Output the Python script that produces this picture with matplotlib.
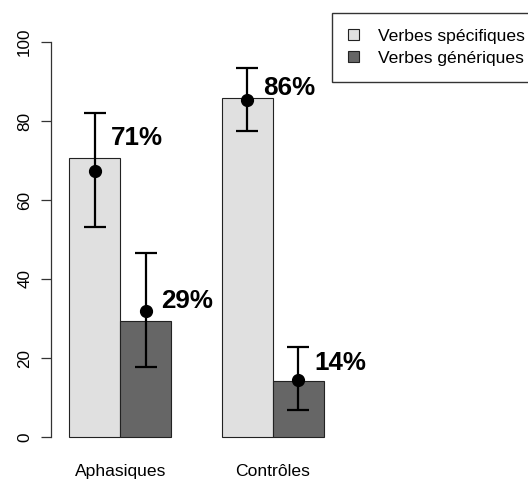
import matplotlib
matplotlib.use("Agg")
import matplotlib.pyplot as plt
from matplotlib.patches import Patch

plt.rcParams['font.family'] = ['Liberation Sans', 'DejaVu Sans']

# ---- data ----
groups = ["Aphasiques", "Contrôles"]
series = ["Verbes spécifiques", "Verbes génériques"]
bar_specific = [70.6, 85.9]
bar_generic = [29.4, 14.3]
point_specific = [67.4, 85.3]
point_generic = [32.0, 14.4]
low_specific = [53.2, 77.5]
low_generic = [17.8, 6.8]
high_specific = [82.1, 93.3]
high_generic = [46.7, 22.9]
label_specific = ["71%", "86%"]
label_generic = ["29%", "14%"]
yticks = [0, 20, 40, 60, 80, 100]

# ---- layout ----
W, H, DPI = 528, 483, 100
fig = plt.figure(figsize=(W / DPI, H / DPI), dpi=DPI)

sx = 50.88          # px per x unit
x1px = 69.3         # pixel of x = 1
sy = 3.95           # px per y unit
y0px = 437.0        # pixel of y = 0
L, R, T, B = 50.5, 340.0, 30.0, 445.0
ax = fig.add_axes([L / W, 1 - B / H, (R - L) / W, (B - T) / H])
ax.set_xlim(1 - (x1px - L) / sx, 1 + (R - x1px) / sx)
ax.set_ylim(-(B - y0px) / sy, (y0px - T) / sy)

col_spec = "#e0e0e0"
col_gen = "#666666"

xs_spec = [1.5, 4.5]
xs_gen = [2.5, 5.5]
ax.bar(xs_spec, bar_specific, width=1.0, color=col_spec, edgecolor="#222222", linewidth=0.8)
ax.bar(xs_gen, bar_generic, width=1.0, color=col_gen, edgecolor="#222222", linewidth=0.8)

for xs, pts, lo, hi in [(xs_spec, point_specific, low_specific, high_specific),
                        (xs_gen, point_generic, low_generic, high_generic)]:
    yerr = [[p - l for p, l in zip(pts, lo)], [h - p for p, h in zip(pts, hi)]]
    ax.errorbar(xs, pts, yerr=yerr, fmt='o', color='black', ecolor='black',
                markersize=8.5, elinewidth=1.6, capsize=7.8, capthick=1.6)

label_dy_spec = [5.0, 2.4]
label_dy_gen = [5.0, 4.5]
for xs, vals, labs, dys in [(xs_spec, bar_specific, label_specific, label_dy_spec),
                            (xs_gen, bar_generic, label_generic, label_dy_gen)]:
    for x, v, lab, dy in zip(xs, vals, labs, dys):
        ax.text(x + 0.31, v + dy, lab, ha='left', va='center',
                fontsize=18.7, fontweight='bold', color='black')

# axes styling
for s in ['top', 'right', 'bottom']:
    ax.spines[s].set_visible(False)
ax.spines['left'].set_bounds(0, 100)
ax.spines['left'].set_linewidth(0.9)
ax.spines['left'].set_color('#333333')
ax.set_yticks(yticks)
ax.set_yticklabels([str(t) for t in yticks], rotation=90, va='center', fontsize=12.3)
ax.tick_params(axis='y', length=7.2, width=0.9, color='#333333', pad=6)
ax.set_xticks([2.0, 5.0])
ax.set_xticklabels(groups, fontsize=12.6)
ax.tick_params(axis='x', length=0, pad=14)

handles = [Patch(facecolor=col_spec, edgecolor='#222222', linewidth=0.8),
           Patch(facecolor=col_gen, edgecolor='#222222', linewidth=0.8)]
leg = fig.legend(handles, series, loc='upper left',
                 bbox_to_anchor=(332 / W, 1 - 13 / H), bbox_transform=fig.transFigure,
                 borderaxespad=0, fontsize=12.6, frameon=True, fancybox=False,
                 edgecolor='black', handlelength=0.65, handleheight=0.65,
                 handletextpad=1.1, labelspacing=0.4, borderpad=0.9)
leg.get_frame().set_linewidth(1.0)

fig.savefig("out.png", dpi=DPI)
